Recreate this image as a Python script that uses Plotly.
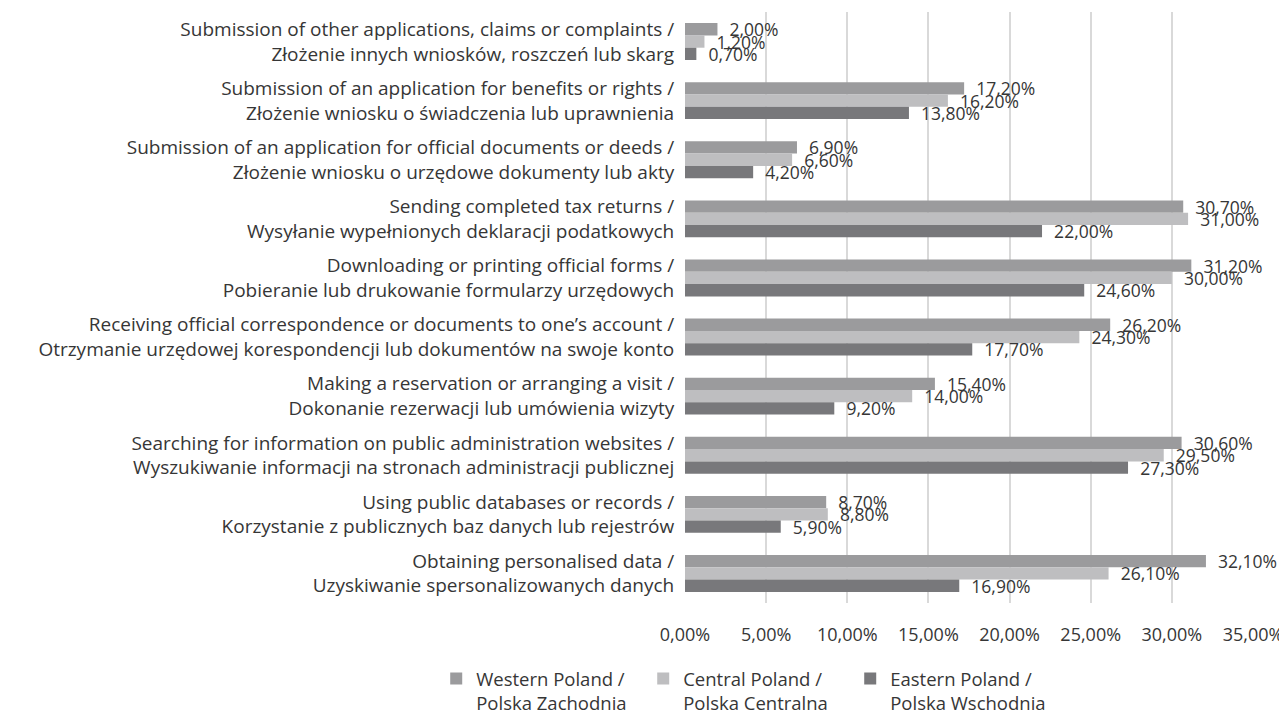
import plotly.graph_objects as go

categories = [
    "Submission of other applications, claims or complaints /<br>Złożenie innych wniosków, roszczeń lub skarg",
    "Submission of an application for benefits or rights /<br>Złożenie wniosku o świadczenia lub uprawnienia",
    "Submission of an application for official documents or deeds /<br>Złożenie wniosku o urzędowe dokumenty lub akty",
    "Sending completed tax returns /<br>Wysyłanie wypełnionych deklaracji podatkowych",
    "Downloading or printing official forms /<br>Pobieranie lub drukowanie formularzy urzędowych",
    "Receiving official correspondence or documents to one’s account /<br>Otrzymanie urzędowej korespondencji lub dokumentów na swoje konto",
    "Making a reservation or arranging a visit /<br>Dokonanie rezerwacji lub umówienia wizyty",
    "Searching for information on public administration websites /<br>Wyszukiwanie informacji na stronach administracji publicznej",
    "Using public databases or records /<br>Korzystanie z publicznych baz danych lub rejestrów",
    "Obtaining personalised data /<br>Uzyskiwanie spersonalizowanych danych",
]

western = [2.00, 17.20, 6.90, 30.70, 31.20, 26.20, 15.40, 30.60, 8.70, 32.10]
central = [1.20, 16.20, 6.60, 31.00, 30.00, 24.30, 14.00, 29.50, 8.80, 26.10]
eastern = [0.70, 13.80, 4.20, 22.00, 24.60, 17.70, 9.20, 27.30, 5.90, 16.90]

series_names = [
    "Western Poland /<br>Polska Zachodnia",
    "Central Poland /<br>Polska Centralna",
    "Eastern Poland /<br>Polska Wschodnia",
]
series_values = [western, central, eastern]
series_colors = ["#9b9b9d", "#bebec0", "#78787b"]

FONT = "'Open Sans', Lato, sans-serif"
TXT = "#363636"


def fmt(v):
    return "\u00a0\u00a0" + f"{v:.2f}".replace(".", ",") + "%"


fig = go.Figure()
for name, vals, col in zip(series_names, series_values, series_colors):
    fig.add_trace(go.Bar(
        y=categories,
        x=vals,
        orientation="h",
        name=name,
        marker=dict(color=col, line=dict(width=0)),
        text=[fmt(v) for v in vals],
        textposition="outside",
        textfont=dict(family=FONT, size=17.5, color=TXT),
        constraintext="none",
        cliponaxis=False,
    ))

fig.update_layout(
    width=1279,
    height=709,
    barmode="group",
    bargap=0.375,
    bargroupgap=0,
    plot_bgcolor="white",
    paper_bgcolor="white",
    margin=dict(l=677, r=34, t=4, b=114, autoexpand=False),
    font=dict(family=FONT, size=18, color=TXT),
    separators=",.",
    showlegend=True,
    legend=dict(
        orientation="h",
        xref="paper",
        yref="container",
        x=-0.438,
        xanchor="left",
        y=0.0805,
        yanchor="top",
        valign="top",
        entrywidth=162,
        entrywidthmode="pixels",
        font=dict(family=FONT, size=18.5, color=TXT),
        traceorder="normal",
    ),
    xaxis=dict(
        range=[0, 35],
        dtick=5,
        tick0=0,
        tickformat=".2f",
        ticksuffix="%",
        showgrid=True,
        gridcolor="#d9d9d9",
        gridwidth=1.5,
        zeroline=False,
        showline=False,
        ticks="outside",
        ticklen=15,
        tickcolor="rgba(0,0,0,0)",
        tickfont=dict(family=FONT, size=18, color=TXT),
    ),
    yaxis=dict(
        autorange="reversed",
        showgrid=False,
        zeroline=False,
        showline=False,
        ticks="outside",
        ticklen=6,
        tickcolor="rgba(0,0,0,0)",
        tickfont=dict(family=FONT, size=19, color=TXT),
    ),
)

fig.write_html("out.html")
